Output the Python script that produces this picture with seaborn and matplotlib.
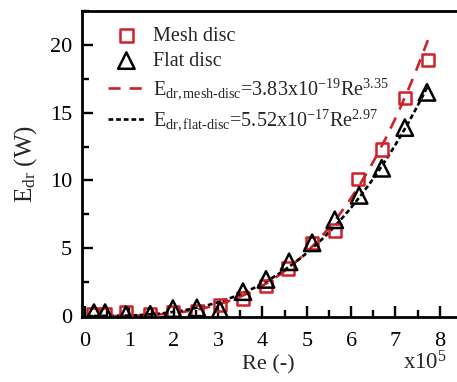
import numpy as np
import pandas as pd
import matplotlib
matplotlib.use("Agg")
import matplotlib.pyplot as plt
import seaborn as sns
from matplotlib.ticker import MultipleLocator

# Reynolds number (x1e5) and drag energy (W)
re_mesh = [0.18, 0.45, 0.92, 1.47, 1.98, 2.52, 3.04, 3.56, 4.08, 4.58, 5.12, 5.63, 6.15, 6.69, 7.21, 7.73]
e_mesh = [0.15, 0.15, 0.25, 0.1, 0.3, 0.35, 0.8, 1.3, 2.2, 3.5, 5.4, 6.3, 10.1, 12.3, 16.1, 18.9]
re_flat = [0.2, 0.45, 0.92, 1.47, 1.98, 2.52, 3.04, 3.56, 4.08, 4.6, 5.12, 5.63, 6.18, 6.69, 7.21, 7.71]
e_flat = [0.25, 0.25, 0.1, 0.12, 0.55, 0.6, 0.45, 1.8, 2.7, 4.0, 5.4, 7.1, 8.9, 10.9, 13.9, 16.5]

# Power-law fits E = a * Re^b
fit_mesh = (3.83e-19, 3.35)
fit_flat = (5.52e-17, 2.97)

sns.set_theme(style="ticks")
plt.rcParams["font.family"] = ["Liberation Serif", "DejaVu Serif"]
plt.rcParams["mathtext.fontset"] = "custom"
plt.rcParams["mathtext.rm"] = "Liberation Serif"
plt.rcParams["mathtext.it"] = "Liberation Serif"
plt.rcParams["mathtext.bf"] = "Liberation Serif"

red = "#d0202a"

fig = plt.figure(figsize=(4.57, 3.82), dpi=100)
ax = fig.add_axes([82 / 457, 65 / 382, (462 - 82) / 457, (317 - 11) / 382])

df_mesh = pd.DataFrame({"Re": re_mesh, "E": e_mesh})
df_flat = pd.DataFrame({"Re": re_flat, "E": e_flat})

sns.scatterplot(data=df_mesh, x="Re", y="E", ax=ax, marker="s", s=80,
                facecolor="none", edgecolor=red, linewidth=1.8,
                label="Mesh disc", zorder=3)
sns.scatterplot(data=df_flat, x="Re", y="E", ax=ax, marker="^", s=140,
                facecolor="none", edgecolor="black", linewidth=1.8,
                label="Flat disc", zorder=4)

xm = np.linspace(min(re_mesh), max(re_mesh), 200)
xf = np.linspace(min(re_flat), max(re_flat), 200)
ym = fit_mesh[0] * (xm * 1e5) ** fit_mesh[1]
yf = fit_flat[0] * (xf * 1e5) ** fit_flat[1]

sns.lineplot(x=xm, y=ym, ax=ax, color=red, linewidth=1.9, linestyle=(0, (4.6, 3.4)),
             label=r"$\mathregular{E_{dr,mesh\text{-}disc}}$=3.83x10$^{\mathregular{-19}}$Re$^{\mathregular{3.35}}$",
             zorder=2)
sns.lineplot(x=xf, y=yf, ax=ax, color="black", linewidth=1.9, linestyle=(0, (1.8, 1.1)),
             label=r"$\mathregular{E_{dr,flat\text{-}disc}}$=5.52x10$^{\mathregular{-17}}$Re$^{\mathregular{2.97}}$",
             zorder=2)

ax.set_xlim(-0.07, 8.5)
ax.set_ylim(-0.07, 22.5)
ax.xaxis.set_major_locator(MultipleLocator(1))
ax.xaxis.set_minor_locator(MultipleLocator(0.5))
ax.yaxis.set_major_locator(MultipleLocator(5))
ax.yaxis.set_minor_locator(MultipleLocator(2.5))
ax.tick_params(which="both", direction="in", width=1.7, labelsize=16, colors="black")
ax.tick_params(which="major", length=8)
ax.tick_params(which="minor", length=5)
ax.tick_params(axis="x", pad=11)
ax.tick_params(axis="y", pad=7)
for side in ["left", "bottom", "top", "right"]:
    ax.spines[side].set_linewidth(2)
    ax.spines[side].set_color("black")

ax.set_xlabel("Re (-)", fontsize=16)
ax.set_ylabel(r"E$_{\mathregular{dr}}$ (W)", fontsize=18, labelpad=8)
ax.xaxis.set_label_coords((268 - 82) / (462 - 82), -0.125)
fig.text(425 / 457, 1 - 363 / 382, r"x10$^{\mathregular{5}}$", fontsize=16.5,
         ha="center", va="center")

leg = ax.legend(loc="upper left", frameon=False, fontsize=14.5, handlelength=1.8,
                handletextpad=0.4, labelspacing=0.3, borderaxespad=0.3,
                bbox_to_anchor=(0.032, 0.995))

fig.savefig("out.png", dpi=100)
